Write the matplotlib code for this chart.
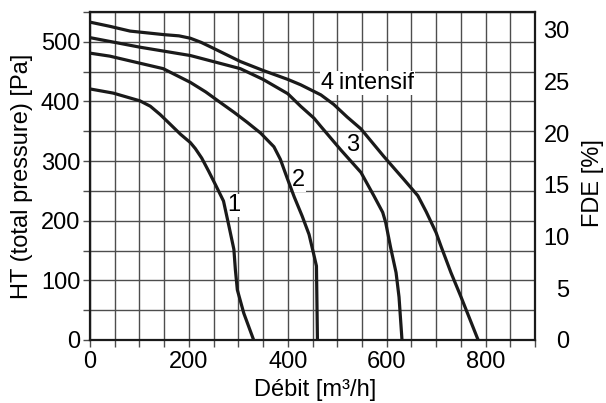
import matplotlib
matplotlib.use('Agg')
import matplotlib.pyplot as plt
from matplotlib.ticker import MultipleLocator

plt.rcParams['font.family'] = ['Liberation Sans', 'DejaVu Sans']

# Curve 1
q1 = [0, 47, 101, 122, 142, 162, 183, 203, 213, 226, 240, 254, 270, 281, 291, 294, 298, 311, 331]
p1 = [421, 414, 401, 392, 378, 362, 345, 331, 321, 305, 283, 260, 233, 191, 152, 118, 84, 45, 0]
# Curve 2
q2 = [0, 40, 81, 148, 203, 234, 264, 291, 318, 345, 372, 385, 399, 413, 429, 443, 453, 458, 460]
p2 = [481, 476, 468, 455, 432, 416, 398, 382, 365, 347, 324, 303, 271, 240, 208, 177, 142, 124, 0]
# Curve 3
q3 = [0, 101, 203, 304, 350, 400, 426, 453, 467, 507, 548, 574, 592, 598, 608, 619, 625, 631]
p3 = [507, 491, 477, 455, 437, 413, 392, 372, 358, 319, 281, 242, 214, 197, 155, 113, 72, 0]
# Curve 4 intensif
q4 = [0, 40, 81, 150, 180, 203, 225, 250, 304, 350, 400, 426, 467, 493, 520, 548, 570, 594, 615,
      635, 663, 680, 700, 710, 730, 750, 785]
p4 = [533, 526, 518, 512, 510, 506, 499, 489, 467, 452, 437, 428, 411, 395, 374, 354, 332, 308, 288,
      269, 242, 215, 180, 157, 113, 73, 0]

x_ticks = [0, 200, 400, 600, 800]
y_ticks = [0, 100, 200, 300, 400, 500]
fde_ticks = [0, 5, 10, 15, 20, 25, 30]

grid_color = '#4d4d4d'
curve_color = '#1a1a1a'
fs = 17

fig = plt.figure(figsize=(6.06, 4.03), dpi=100)
ax = fig.add_axes([90/606, 1-340/403, 445/606, 328/403])
ax.set_xlim(0, 900)
ax.set_ylim(0, 550)
ax.set_xticks(x_ticks)
ax.set_yticks(y_ticks)
ax.xaxis.set_minor_locator(MultipleLocator(50))
ax.yaxis.set_minor_locator(MultipleLocator(50))
ax.grid(which='both', color=grid_color, lw=1.0)
ax.set_axisbelow(True)
ax.tick_params(which='both', direction='out', length=5, width=1.0, color=grid_color,
               left=True, right=True, bottom=True, top=False, labelright=False, labelsize=fs)
ax.tick_params(axis='x', which='both', pad=3)
ax.tick_params(axis='y', which='both', pad=2)
for s in ax.spines.values():
    s.set_linewidth(1.6)
    s.set_color(curve_color)

for q, p in [(q1, p1), (q2, p2), (q3, p3), (q4, p4)]:
    ax.plot(q, p, color=curve_color, lw=2.3, solid_joinstyle='round', solid_capstyle='round', zorder=5)

bb = dict(facecolor='white', edgecolor='none', pad=0.5)
ax.text(290, 226, '1', fontsize=fs, ha='center', va='center', bbox=bb, zorder=4)
ax.text(422, 268, '2', fontsize=fs, ha='center', va='center', bbox=bb, zorder=4)
ax.text(531, 327, '3', fontsize=fs, ha='center', va='center', bbox=bb, zorder=4)
ax.text(467, 431, '4\u2009intensif', fontsize=fs, ha='left', va='center', bbox=bb, zorder=4)

ax2 = ax.twinx()
ax2.set_ylim(0, 31.7)
ax2.set_yticks(fde_ticks)
ax2.tick_params(length=0, pad=25, labelsize=fs)
for lab in ax2.get_yticklabels():
    lab.set_ha('right')
for s in ax2.spines.values():
    s.set_visible(False)

fig.text(22/606, 1-176/403, 'HT (total pressure) [Pa]', rotation=90, ha='center', va='center', fontsize=fs)
fig.text(315/606, 1-390/403, 'Débit [m³/h]', ha='center', va='center', fontsize=fs)
fig.text(593/606, 1-183/403, 'FDE [%]', rotation=90, ha='center', va='center', fontsize=fs)

fig.savefig('out.png', dpi=100)
